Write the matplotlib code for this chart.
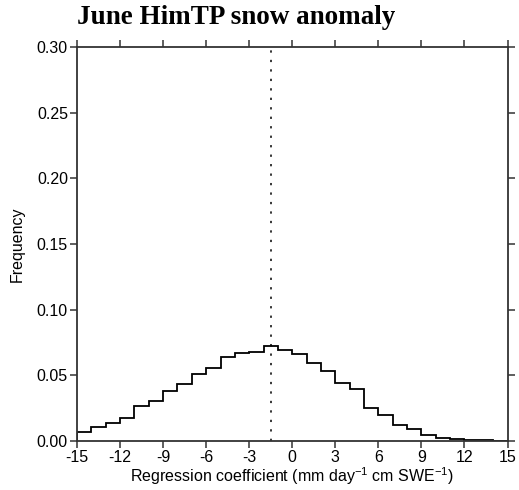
import matplotlib
matplotlib.use("Agg")
import matplotlib.pyplot as plt
import numpy as np

# bin edges (mm day-1 cm SWE-1) and frequencies
edges = np.arange(-15, 16, 1)
freq = [0.0069, 0.0104, 0.0139, 0.0175, 0.0264, 0.0307, 0.0381, 0.0432,
        0.0513, 0.0558, 0.0642, 0.0670, 0.0676, 0.0721, 0.0695, 0.0663,
        0.0594, 0.0535, 0.0444, 0.0394, 0.0254, 0.0198, 0.0124, 0.0089,
        0.0048, 0.0025, 0.0015, 0.0008, 0.0005, 0.0003]
mean_val = -1.5
xticks = [-15, -12, -9, -6, -3, 0, 3, 6, 9, 12, 15]
yticks = [0.0, 0.05, 0.10, 0.15, 0.20, 0.25, 0.30]

plt.rcParams['font.family'] = ['Liberation Sans', 'DejaVu Sans']

fig = plt.figure(figsize=(5.19, 4.90), dpi=100)
ax = fig.add_axes([77 / 519, 1 - 441 / 490, 430.5 / 519, 394 / 490])

ax.stairs(freq, edges, baseline=0, color='black', linewidth=1.3)
ax.axvline(mean_val, color='black', linewidth=1.1, linestyle=(0, (1.5, 4.7)))

ax.set_xlim(-15, 15)
ax.set_ylim(0, 0.30)
ax.set_xticks(xticks)
ax.set_xticklabels([str(t) for t in xticks])
ax.set_yticks(yticks)
ax.set_yticklabels(['%.2f' % t for t in yticks])
ax.tick_params(direction='out', length=5, width=1.1, color='#333333',
               labelsize=11.5, top=True, right=True, pad=1.5)
for s in ax.spines.values():
    s.set_linewidth(1.3)
    s.set_color('#333333')

ax.set_xlabel('Regression coefficient (mm day$^{\\mathregular{-1}}$ cm SWE$^{\\mathregular{-1}}$)',
              fontsize=11.5, labelpad=0)
ax.set_ylabel('Frequency', fontsize=11.5, labelpad=9)

fig.text(77 / 519, 1 - 18 / 490, 'June HimTP snow anomaly', family='Liberation Serif',
         fontweight='bold', fontsize=19.5, va='center', ha='left')

fig.savefig('out.png', dpi=100)
